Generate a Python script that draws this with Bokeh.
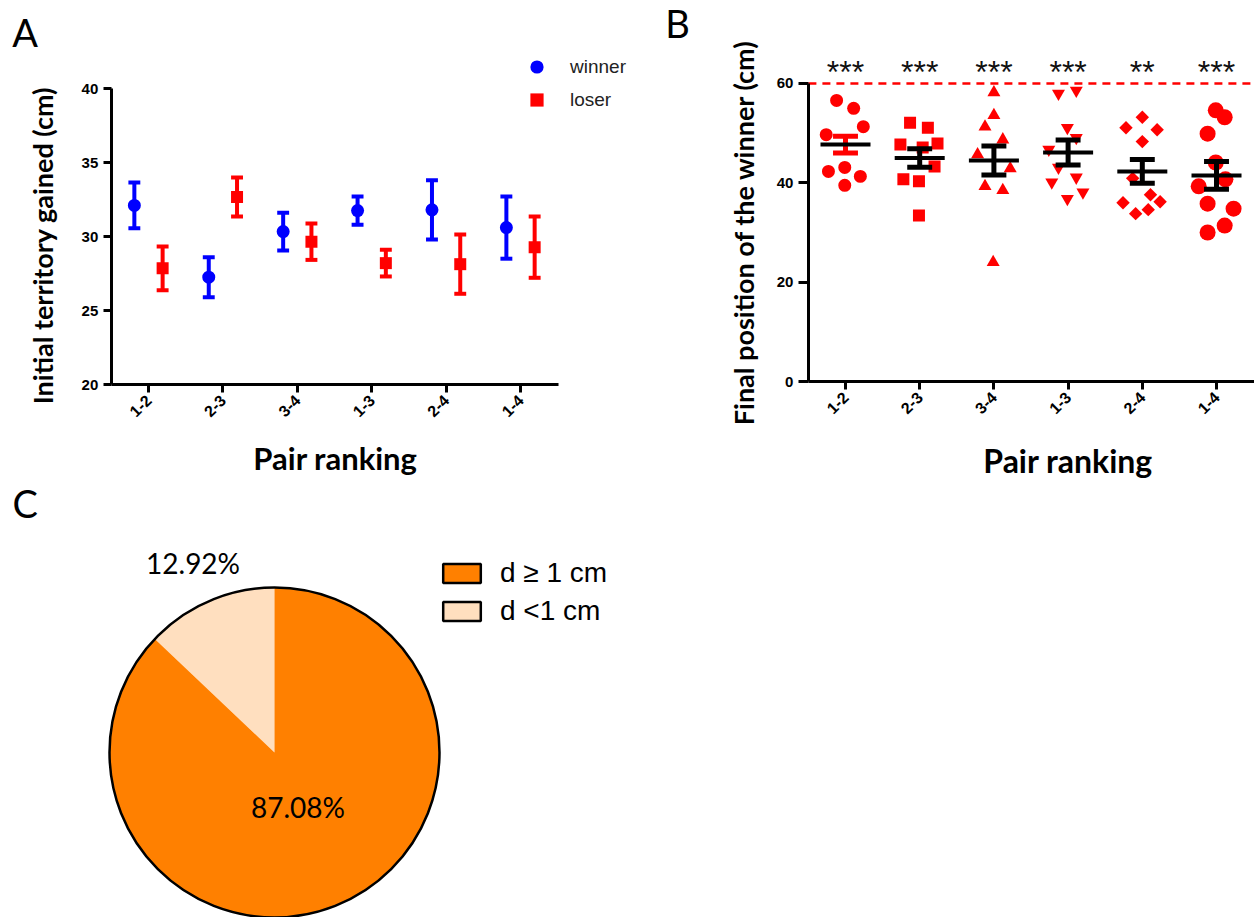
import math
import numpy as np
from bokeh.plotting import figure
from bokeh.models import (Range1d, FixedTicker, ColumnDataSource, Legend, LegendItem,
                          Label, LabelSet)
from bokeh.layouts import row, column
from bokeh.embed import file_html
from bokeh.resources import INLINE
from bokeh.core.properties import value

# ---------------- data ----------------
pairs = ["1-2", "2-3", "3-4", "1-3", "2-4", "1-4"]

# Panel A: initial territory gained (cm), mean and SEM
winner_mean = [32.1, 27.25, 30.33, 31.75, 31.8, 30.6]
winner_sem = [1.55, 1.35, 1.28, 0.95, 2.0, 2.1]
loser_mean = [27.85, 32.67, 29.65, 28.2, 28.13, 29.28]
loser_sem = [1.48, 1.32, 1.23, 0.9, 2.0, 2.07]
a_yticks = [20, 25, 30, 35, 40]

# Panel B: final position of the winner (cm), individual values
final_12 = [56.6, 55.0, 51.3, 49.7, 42.3, 43.1, 41.3, 39.5]
final_23 = [52.1, 51.1, 47.7, 47.9, 47.1, 43.3, 40.7, 40.3, 33.4]
final_34 = [58.2, 53.6, 51.3, 48.7, 45.7, 42.9, 39.3, 38.5, 24.0]
final_13 = [58.0, 58.6, 51.1, 49.1, 46.7, 43.1, 41.1, 40.1, 38.1, 36.8]
final_24 = [53.2, 51.1, 50.7, 48.3, 40.9, 37.6, 36.2, 36.0, 33.8, 34.6]
final_14 = [54.6, 53.2, 49.9, 44.1, 40.7, 39.3, 35.8, 34.8, 31.4, 30.0]
# horizontal scatter jitter of each point (category units)
jitter_12 = [-0.12, 0.11, 0.24, -0.26, -0.23, -0.01, 0.20, -0.01]
jitter_23 = [-0.13, 0.11, -0.26, 0.24, 0.04, 0.20, -0.22, -0.01, -0.01]
jitter_34 = [0.0, 0.0, -0.12, 0.12, -0.22, 0.22, -0.12, 0.12, -0.01]
jitter_13 = [-0.13, 0.11, -0.01, 0.11, -0.26, -0.13, 0.11, -0.22, 0.20, -0.01]
jitter_24 = [0.0, -0.22, 0.20, 0.0, -0.13, 0.11, 0.24, -0.26, -0.09, 0.08]
jitter_14 = [-0.01, 0.11, -0.12, -0.01, 0.12, -0.24, -0.12, 0.23, 0.11, -0.12]
final_mean = [47.7, 45.0, 44.5, 46.1, 42.3, 41.5]
final_sem = [1.7, 1.85, 2.9, 2.5, 2.4, 2.8]
significance = ["***", "***", "***", "***", "**", "***"]
b_yticks = [0, 20, 40, 60]
arena_end = 60

# Panel C: pie
pie_labels = ["d \u2265 1 cm", "d <1 cm"]
pie_values = [87.08, 12.92]

# ---------------- styles ----------------
BLUE = "#0000FF"
RED = "#FF0000"
pie_colors = ["#FF8000", "#FFDFBF"]
TITLE_FONT = "Lato"
TICK_FONT = "Liberation Sans"


def style_axes(p, xbounds, ybounds, yticks):
    p.outline_line_color = None
    p.grid.visible = False
    p.background_fill_color = "white"
    p.border_fill_color = "white"
    p.xaxis.ticker = FixedTicker(ticks=list(range(len(pairs))))
    p.xaxis.major_label_overrides = {i: s for i, s in enumerate(pairs)}
    p.xaxis.major_label_orientation = math.pi / 4
    p.yaxis.ticker = FixedTicker(ticks=yticks)
    p.xaxis.fixed_location = ybounds[0]
    p.yaxis.fixed_location = xbounds[0]
    p.xaxis.bounds = xbounds
    p.yaxis.bounds = ybounds
    for ax in p.axis:
        ax.axis_line_width = 3
        ax.axis_line_color = "black"
        ax.major_tick_line_width = 3
        ax.major_tick_out = 8
        ax.major_tick_in = 0
        ax.minor_tick_line_color = None
        ax.major_label_text_font = TICK_FONT
        ax.major_label_text_font_style = "bold"
        ax.major_label_text_font_size = "15px"
        ax.major_label_text_color = "black"
        ax.major_label_standoff = 5
    p.xaxis.major_label_text_font_size = "16px"


def title_label(p, x, y, text, size, angle=0.0):
    p.add_layout(Label(x=x, y=y, text=text, text_font=TITLE_FONT, text_font_style="bold",
                       text_font_size=size, text_color="black", text_align="center",
                       text_baseline="middle", angle=angle))


def panel_letter(p, x, y, text):
    p.add_layout(Label(x=x, y=y, text=text, text_font=TITLE_FONT, text_font_size="38px",
                       text_color="black", text_baseline="alphabetic", text_align="left"))


idx = np.arange(len(pairs))

# ---------------- Panel A ----------------
pA = figure(width=650, height=480, x_range=Range1d(-1.989, 6.747), y_range=Range1d(13.514, 45.946),
            output_backend="svg", toolbar_location=None, min_border=0)
style_axes(pA, (-0.5, 5.51), (20, 40), a_yticks)
title_label(pA, -1.425, 29.39, "Initial territory gained (cm)", "27px", math.pi / 2)
title_label(pA, 2.513, 15.05, "Pair ranking", "31px")

offset = 0.19
cap_a = 0.08
wx = idx - offset
lx = idx + offset
srcW = ColumnDataSource(dict(x=wx, m=winner_mean,
                             lo=np.array(winner_mean) - np.array(winner_sem),
                             hi=np.array(winner_mean) + np.array(winner_sem),
                             cx0=wx - cap_a, cx1=wx + cap_a))
srcL = ColumnDataSource(dict(x=lx, m=loser_mean,
                             lo=np.array(loser_mean) - np.array(loser_sem),
                             hi=np.array(loser_mean) + np.array(loser_sem),
                             cx0=lx - cap_a, cx1=lx + cap_a))
for src, col in ((srcW, BLUE), (srcL, RED)):
    pA.segment(x0="x", y0="lo", x1="x", y1="hi", source=src, line_width=4, line_color=col)
    pA.segment(x0="cx0", y0="hi", x1="cx1", y1="hi", source=src, line_width=4, line_color=col)
    pA.segment(x0="cx0", y0="lo", x1="cx1", y1="lo", source=src, line_width=4, line_color=col)
rW = pA.scatter(x="x", y="m", source=srcW, marker="circle", size=13, fill_color=BLUE, line_color=None)
rL = pA.scatter(x="x", y="m", source=srcL, marker="square", size=12, fill_color=RED, line_color=None)

legA = Legend(items=[LegendItem(label="winner", renderers=[rW]),
                     LegendItem(label="loser", renderers=[rL])],
              location=(520, 364), orientation="vertical",
              glyph_width=33, glyph_height=33, label_height=33, spacing=0, padding=0, margin=0,
              label_standoff=17, label_text_font=TICK_FONT, label_text_font_size="19px",
              label_text_color="#222222", border_line_color=None, background_fill_alpha=0)
pA.add_layout(legA)
panel_letter(pA, -1.83, 43.85, "A")

# ---------------- Panel B ----------------
pB = figure(width=604, height=480, x_range=Range1d(-2.628, 5.512), y_range=Range1d(-19.93, 76.71),
            output_backend="svg", toolbar_location=None, min_border=0)
style_axes(pB, (-0.5, 5.512), (0, 60), b_yticks)
pB.yaxis.major_tick_out = 10
title_label(pB, -1.375, 30.0, "Final position of the winner (cm)", "27px", math.pi / 2)
title_label(pB, 3.0, -15.9, "Pair ranking", "32px")

pB.segment(x0=-0.5, y0=arena_end, x1=5.512, y1=arena_end, line_color=RED, line_width=2.5,
           line_dash="8 6")

b_values = [final_12, final_23, final_34, final_13, final_24, final_14]
b_jitter = [jitter_12, jitter_23, jitter_34, jitter_13, jitter_24, jitter_14]
b_markers = ["circle", "square", "triangle", "inverted_triangle", "square", "circle"]
b_sizes = [13, 12, 13, 13, 9.5, 16]
b_angles = [0, 0, 0, 0, math.pi / 4, 0]
for i, (vals, jit) in enumerate(zip(b_values, b_jitter)):
    pB.scatter(x=[i + j for j in jit], y=vals, marker=b_markers[i], size=b_sizes[i],
               angle=b_angles[i], fill_color=RED, line_color=None)

err_colors = [RED, "black", "black", "black", "black", "black"]
cap_b = 0.168
mean_half = 0.337
fm = np.array(final_mean)
fs = np.array(final_sem)
srcB = ColumnDataSource(dict(x=idx, m=fm, lo=fm - fs, hi=fm + fs, c=err_colors,
                             cx0=idx - cap_b, cx1=idx + cap_b,
                             mx0=idx - mean_half, mx1=idx + mean_half))
pB.segment(x0="x", y0="lo", x1="x", y1="hi", source=srcB, line_width=5, line_color="c")
pB.segment(x0="cx0", y0="hi", x1="cx1", y1="hi", source=srcB, line_width=5, line_color="c")
pB.segment(x0="cx0", y0="lo", x1="cx1", y1="lo", source=srcB, line_width=5, line_color="c")
pB.segment(x0="mx0", y0="m", x1="mx1", y1="m", source=srcB, line_width=4, line_color="black")

star_src = ColumnDataSource(dict(x=idx, y=[arena_end + 0.2] * len(pairs), t=significance))
pB.add_layout(LabelSet(x="x", y="y", text="t", source=star_src, text_align="center",
                       text_baseline="alphabetic", text_font=value(TICK_FONT),
                       text_font_size=value("32px"), text_color="#111111"))
panel_letter(pB, -2.43, 72.1, "B")

# ---------------- Panel C ----------------
pC = figure(width=650, height=437, x_range=Range1d(0, 650), y_range=Range1d(0, 437),
            output_backend="svg", toolbar_location=None, x_axis_type=None, y_axis_type=None,
            min_border=0)
pC.outline_line_color = None
pC.grid.visible = False

cx, cy, R = 274, 165, 165
# slices drawn from 12 o'clock anticlockwise, smallest slice first
order = [1, 0]
frac = np.array([pie_values[k] for k in order]) / sum(pie_values)
ends = math.pi / 2 + 2 * math.pi * np.cumsum(frac)
starts = np.concatenate([[math.pi / 2], ends[:-1]])
pC.wedge(x=cx, y=cy, radius=R, start_angle=starts, end_angle=ends, direction="anticlock",
         fill_color=[pie_colors[k] for k in order], line_color=None)
pC.circle(x=cx, y=cy, radius=R, fill_color=None, line_color="black", line_width=2.5)

mids = (starts + ends) / 2
rfac = np.array([1.25, 0.36])
lab_src = ColumnDataSource(dict(x=cx + rfac * R * np.cos(mids), y=cy + rfac * R * np.sin(mids),
                                t=["%.2f%%" % pie_values[k] for k in order]))
pC.add_layout(LabelSet(x="x", y="y", text="t", source=lab_src, text_align="center",
                       text_baseline="middle", text_font=value(TITLE_FONT),
                       text_font_size=value("28px"), text_color="black"))

# legend-only renderer (zero-radius wedges carry the swatch styles)
leg_src = ColumnDataSource(dict(color=pie_colors, label=pie_labels))
leg_r = pC.wedge(x=cx, y=cy, radius=0, start_angle=0, end_angle=0.01, source=leg_src,
                 fill_color="color", line_color="black", line_width=2.5)
legC = Legend(items=[LegendItem(label=pie_labels[k], renderers=[leg_r], index=k) for k in range(2)],
              location=(438, 290), orientation="vertical",
              glyph_width=47, glyph_height=24, label_height=30, spacing=6, padding=0, margin=0,
              label_standoff=15, label_text_font=TICK_FONT, label_text_font_size="28px",
              label_text_color="black", border_line_color=None, background_fill_alpha=0)
pC.add_layout(legC)
panel_letter(pC, 12, 415, "C")

layout = column(row(pA, pB), pC)
open("out.html", "w").write(file_html(layout, INLINE))
